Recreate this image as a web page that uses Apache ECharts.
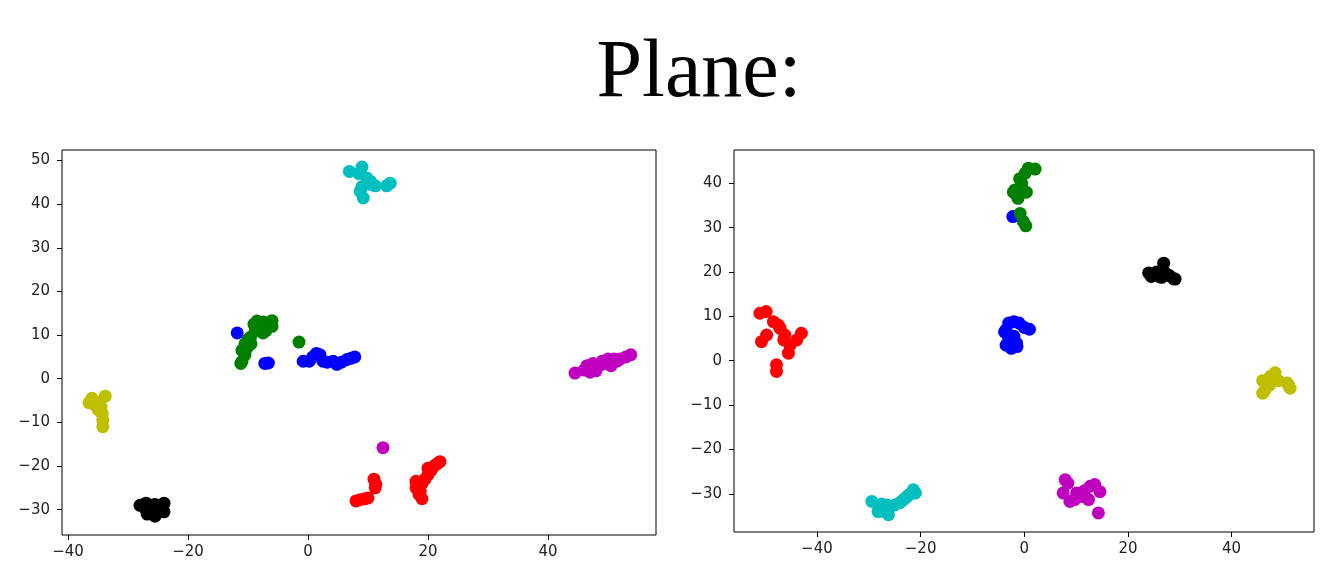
<!DOCTYPE html>
<html>
<head>
<meta charset="utf-8">
<title>Plane</title>
<script src="https://cdn.jsdelivr.net/npm/echarts@6/dist/echarts.min.js"></script>
<style>
  html, body { margin: 0; padding: 0; background: #fff; }
  #chart { width: 1326px; height: 577px; }
</style>
</head>
<body>
<div id="chart"></div>
<script>
// 左图各类别的点 [x, y]
const leftBlue = [[-11.8, 10.5], [-7.2, 3.5], [-6.6, 3.6], [-0.8, 4.0], [0.2, 4.0], [0.8, 5.0], [1.4, 5.8],
  [2.0, 5.5], [2.5, 4.0], [3.2, 3.8], [4.2, 4.0], [4.8, 3.3], [5.6, 3.8], [6.5, 4.4], [7.2, 4.7], [7.8, 5.0]];
const leftGreen = [[-8.5, 12.5], [-7.5, 13.0], [-6.5, 12.8], [-6.0, 12.0], [-7.0, 11.0], [-8.0, 11.5],
  [-9.0, 12.5], [-7.5, 10.5], [-8.5, 13.2], [-6.0, 13.3], [-8.8, 11.0], [-10.0, 9.0], [-10.5, 8.0],
  [-11.0, 6.5], [-10.5, 5.5], [-11.0, 4.0], [-10.2, 7.0], [-9.6, 9.5], [-11.2, 3.5], [-9.5, 8.0], [-1.5, 8.4]];
const leftRed = [[8.0, -28.0], [8.7, -27.7], [9.5, -27.5], [10.0, -27.3], [11.0, -23.0], [11.3, -24.2],
  [11.2, -25.0], [18.0, -23.5], [18.0, -25.0], [18.5, -26.5], [19.0, -27.5], [19.0, -24.0], [19.5, -23.0],
  [20.0, -22.0], [20.5, -21.0], [21.0, -20.0], [22.0, -19.0], [21.5, -19.5], [20.0, -20.5], [18.7, -25.8]];
const leftCyan = [[6.9, 47.5], [9.0, 48.5], [9.0, 44.0], [10.4, 45.2], [11.2, 44.2], [13.7, 44.8], [13.1, 44.2],
  [8.7, 42.9], [9.2, 41.4], [9.8, 46.0], [10.5, 44.5], [8.5, 47.0]];
const leftMagenta = [[44.5, 1.3], [46.0, 2.0], [46.5, 3.0], [47.0, 1.5], [47.5, 3.5], [48.0, 2.5], [48.5, 3.0],
  [49.0, 4.0], [49.5, 3.5], [50.0, 4.5], [50.5, 3.0], [51.0, 4.5], [51.5, 4.0], [52.0, 4.5], [53.0, 5.0],
  [53.8, 5.5], [47.2, 2.5], [48.0, 1.8], [12.5, -15.8]];
const leftYellow = [[-36.5, -5.5], [-36.0, -4.5], [-35.5, -6.0], [-35.0, -7.0], [-33.8, -4.0], [-34.5, -6.5],
  [-34.3, -8.0], [-34.2, -9.5], [-34.2, -11.0], [-35.8, -5.0], [-35.0, -5.5], [-34.6, -7.5]];
const leftBlack = [[-28.0, -29.0], [-27.0, -28.5], [-26.5, -29.5], [-26.0, -30.5], [-25.5, -31.5],
  [-25.0, -30.0], [-24.5, -29.0], [-24.0, -28.5], [-24.0, -30.5], [-27.0, -30.0], [-26.0, -29.0],
  [-25.5, -28.8], [-26.8, -31.0]];

// 右图各类别的点 [x, y]
const rightBlue = [[-2.2, 32.5], [-3.5, 7.0], [-3.0, 8.5], [-2.0, 8.8], [-1.0, 8.5], [0.0, 7.5], [1.0, 7.1],
  [-3.8, 6.5], [-3.0, 5.0], [-3.5, 3.5], [-2.5, 2.8], [-1.4, 3.2], [-3.0, 4.0], [-2.0, 5.5], [-1.5, 4.0]];
const rightGreen = [[0.8, 43.4], [2.1, 43.2], [0.2, 42.3], [-0.5, 40.0], [-1.8, 38.5], [-1.2, 36.6],
  [0.4, 38.0], [-0.9, 41.0], [-1.5, 37.4], [-0.8, 33.2], [-0.2, 31.4], [0.3, 30.4], [-2.1, 38.0], [-0.5, 39.0]];
const rightRed = [[-51.0, 10.7], [-49.8, 11.1], [-48.4, 8.8], [-47.1, 7.3], [-46.2, 5.8], [-50.7, 4.3],
  [-49.7, 5.8], [-45.2, 3.5], [-45.5, 1.7], [-43.9, 4.7], [-43.0, 6.2], [-47.8, -0.9], [-47.8, -2.4],
  [-47.4, 8.0], [-46.4, 4.7]];
const rightCyan = [[-29.4, -31.7], [-28.0, -33.0], [-27.5, -32.3], [-27.0, -34.0], [-26.0, -33.0],
  [-26.2, -34.7], [-25.0, -32.5], [-24.0, -32.0], [-23.5, -31.5], [-23.0, -31.0], [-22.5, -30.5],
  [-22.0, -30.0], [-21.4, -29.1], [-21.0, -29.8], [-26.5, -32.5], [-28.2, -34.0]];
const rightMagenta = [[7.9, -26.8], [8.4, -27.6], [7.5, -29.8], [8.8, -31.7], [10.1, -29.8], [11.1, -30.6],
  [12.7, -28.3], [13.6, -27.9], [14.6, -29.5], [12.4, -31.3], [14.3, -34.3], [9.7, -31.3], [11.6, -29.3]];
const rightYellow = [[46.0, -4.5], [46.5, -6.5], [47.0, -5.0], [47.5, -3.5], [48.0, -4.0], [48.5, -4.2],
  [48.4, -2.7], [49.0, -4.5], [46.0, -7.3], [51.0, -5.5], [51.3, -6.2], [50.7, -5.0], [47.3, -5.5]];
const rightBlack = [[24.0, 19.8], [25.0, 19.5], [25.5, 20.0], [26.0, 19.0], [26.8, 20.5], [26.9, 22.0],
  [27.5, 19.5], [28.0, 19.2], [28.8, 18.5], [29.1, 18.4], [24.5, 19.0], [26.5, 18.8]];

// 刻度
const leftXTicks = [-40, -20, 0, 20, 40];
const leftYTicks = [-30, -20, -10, 0, 10, 20, 30, 40, 50];
const rightXTicks = [-40, -20, 0, 20, 40];
const rightYTicks = [-30, -20, -10, 0, 10, 20, 30, 40];

const colors = ['#0000ff', '#008000', '#ff0000', '#00bfbf', '#bf00bf', '#bfbf00', '#000000'];
const leftSets = [leftBlue, leftGreen, leftRed, leftCyan, leftMagenta, leftYellow, leftBlack];
const rightSets = [rightBlue, rightGreen, rightRed, rightCyan, rightMagenta, rightYellow, rightBlack];

const chart = echarts.init(document.getElementById('chart'));

function fmt(v) {
  return String(v).replace('-', '\u2212');
}

function makeAxis(idx, min, max, ticks, isX) {
  return {
    type: 'value',
    gridIndex: idx,
    position: isX ? 'bottom' : 'left',
    min: min,
    max: max,
    scale: true,
    axisLine: { show: false, onZero: false },
    splitLine: { show: false },
    axisTick: {
      show: true,
      inside: false,
      length: 5,
      customValues: ticks,
      lineStyle: { color: '#000', width: 1 }
    },
    axisLabel: {
      customValues: ticks,
      formatter: fmt,
      color: '#222',
      fontFamily: 'DejaVu Sans',
      fontSize: 15,
      margin: isX ? 10 : 12
    }
  };
}

const series = [];
leftSets.forEach((d, i) => {
  series.push({
    type: 'scatter', xAxisIndex: 0, yAxisIndex: 0, data: d,
    symbolSize: 13, itemStyle: { color: colors[i], opacity: 1 }, silent: true
  });
});
rightSets.forEach((d, i) => {
  series.push({
    type: 'scatter', xAxisIndex: 1, yAxisIndex: 1, data: d,
    symbolSize: 13, itemStyle: { color: colors[i], opacity: 1 }, silent: true
  });
});

const option = {
  backgroundColor: '#fff',
  animation: false,
  graphic: [{
    type: 'text',
    x: 699,
    y: 74,
    style: {
      text: 'Plane:',
      font: '82px "Liberation Serif"',
      fill: '#000',
      textAlign: 'center',
      textVerticalAlign: 'middle'
    }
  }],
  grid: [
    { left: 62, top: 150, width: 594, height: 385, show: true, borderColor: '#000', borderWidth: 1, containLabel: false },
    { left: 734, top: 150, width: 580, height: 382, show: true, borderColor: '#000', borderWidth: 1, containLabel: false }
  ],
  xAxis: [
    makeAxis(0, -41.0, 58.0, leftXTicks, true),
    makeAxis(1, -56.0, 55.9, rightXTicks, true)
  ],
  yAxis: [
    makeAxis(0, -35.8, 52.4, leftYTicks, false),
    makeAxis(1, -38.6, 47.5, rightYTicks, false)
  ],
  series: series
};

chart.setOption(option);

window.addEventListener('resize', function() {
  chart.resize();
});
</script>
</body>
</html>
